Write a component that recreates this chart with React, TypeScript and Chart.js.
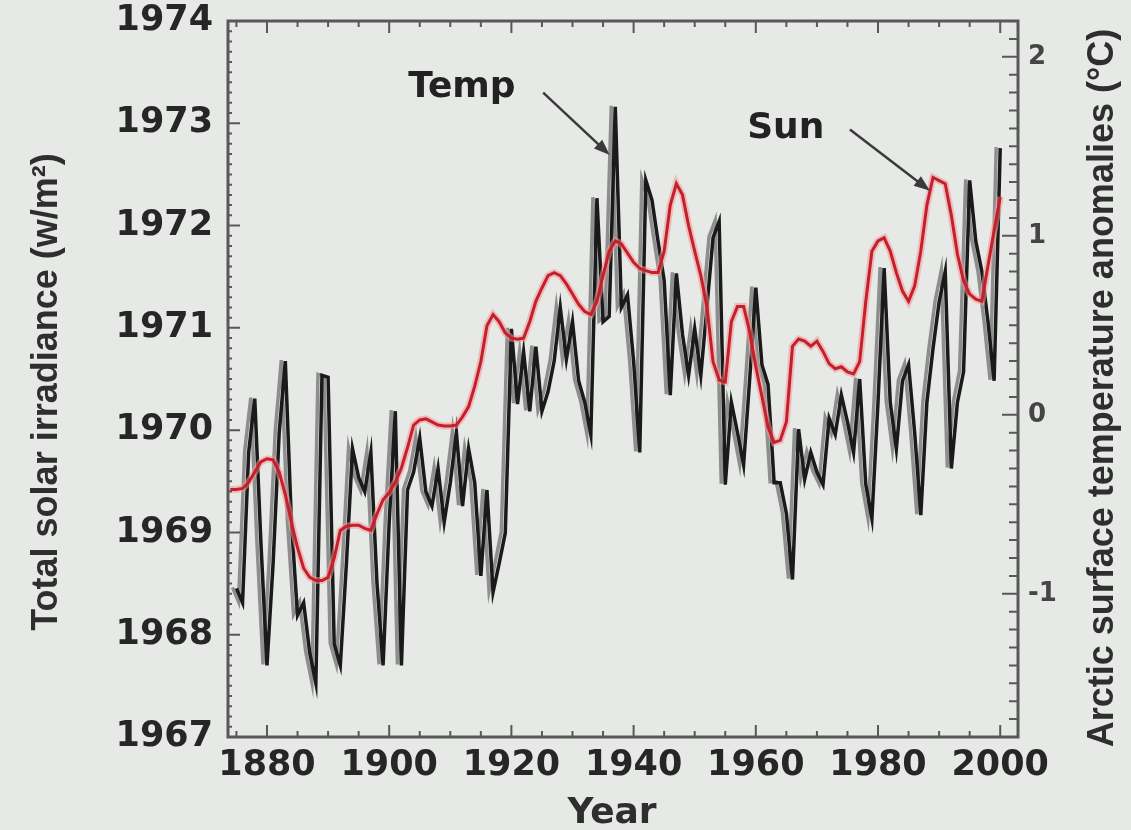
import React, { useEffect, useRef } from 'react';
import { Chart, registerables } from 'chart.js';

Chart.register(...registerables);

// ---- axis ticks ----
const xTickYears = [1880, 1900, 1920, 1940, 1960, 1980, 2000];
const leftTickValues = [1967, 1968, 1969, 1970, 1971, 1972, 1973, 1974];
const rightTickValues = [-1, 0, 1, 2];

// ---- Arctic surface temperature anomalies (°C), annual, from 1875 ----
const tempStartYear = 1875;
const tempAnomaly = [
  -0.97, -1.05, -0.21, 0.09, -0.71, -1.40, -0.83, -0.10, 0.30, -0.60, // 1875-1884
  -1.12, -1.05, -1.33, -1.50, 0.22, 0.21, -1.28, -1.40, -0.83, -0.19, // 1885-1894
  -0.35, -0.43, -0.21, -0.94, -1.40, -0.60, 0.02, -1.40, -0.42, -0.32, // 1895-1904
  -0.13, -0.43, -0.51, -0.30, -0.60, -0.38, -0.10, -0.51, -0.19, -0.38, // 1905-1914
  -0.90, -0.42, -0.99, -0.83, -0.66, 0.48, 0.06, 0.35, 0.02, 0.38, // 1915-1924
  0.02, 0.13, 0.30, 0.60, 0.31, 0.52, 0.19, 0.07, -0.11, 1.21, // 1925-1934
  0.52, 0.55, 1.72, 0.60, 0.67, 0.30, -0.21, 1.31, 1.20, 0.97, // 1935-1944
  0.75, 0.11, 0.79, 0.45, 0.22, 0.48, 0.22, 0.60, 0.99, 1.08, // 1945-1954
  -0.39, 0.07, -0.10, -0.28, 0.20, 0.71, 0.28, 0.17, -0.38, -0.38, // 1955-1964
  -0.55, -0.92, -0.08, -0.36, -0.21, -0.32, -0.39, -0.02, -0.11, 0.11, // 1965-1974
  -0.04, -0.21, 0.20, -0.39, -0.58, 0.07, 0.82, 0.07, -0.19, 0.19, // 1975-1984
  0.28, -0.10, -0.56, 0.07, 0.37, 0.63, 0.80, -0.30, 0.07, 0.24, // 1985-1994
  1.31, 0.97, 0.80, 0.52, 0.19, 1.49, // 1995-2000
];

// ---- Total solar irradiance (W/m2, as labelled), annual, from 1874 ----
const sunStartYear = 1874;
const sunIrradiance = [
  1969.42, 1969.42, 1969.43, 1969.49, 1969.59, 1969.69, 1969.72, 1969.71, 1969.59, 1969.37, // 1874-1883
  1969.10, 1968.85, 1968.65, 1968.56, 1968.53, 1968.53, 1968.56, 1968.75, 1969.02, 1969.06, // 1884-1893
  1969.07, 1969.07, 1969.04, 1969.02, 1969.18, 1969.32, 1969.39, 1969.49, 1969.63, 1969.83, // 1894-1903
  1970.05, 1970.10, 1970.11, 1970.08, 1970.05, 1970.04, 1970.04, 1970.05, 1970.13, 1970.23, // 1904-1913
  1970.43, 1970.67, 1971.02, 1971.13, 1971.06, 1970.95, 1970.90, 1970.89, 1970.90, 1971.06, // 1914-1923
  1971.26, 1971.39, 1971.51, 1971.54, 1971.51, 1971.43, 1971.33, 1971.23, 1971.16, 1971.13, // 1924-1933
  1971.26, 1971.51, 1971.75, 1971.85, 1971.82, 1971.73, 1971.64, 1971.58, 1971.56, 1971.54, // 1934-1943
  1971.54, 1971.75, 1972.20, 1972.41, 1972.30, 1972.00, 1971.75, 1971.51, 1971.21, 1970.67, // 1944-1953
  1970.49, 1970.47, 1971.06, 1971.21, 1971.21, 1970.96, 1970.62, 1970.33, 1970.03, 1969.88, // 1954-1963
  1969.90, 1970.08, 1970.82, 1970.89, 1970.87, 1970.82, 1970.87, 1970.77, 1970.65, 1970.60, // 1964-1973
  1970.62, 1970.57, 1970.55, 1970.67, 1971.26, 1971.75, 1971.85, 1971.88, 1971.75, 1971.54, // 1974-1983
  1971.36, 1971.26, 1971.41, 1971.75, 1972.20, 1972.47, 1972.44, 1972.41, 1972.10, 1971.72, // 1984-1993
  1971.46, 1971.33, 1971.28, 1971.26, 1971.61, 1971.95, 1972.28, // 1994-2000
];

const tempYears = tempAnomaly.map((_, i) => tempStartYear + i);
const sunYears = sunIrradiance.map((_, i) => sunStartYear + i);

// ---- annotations (in data units: year, left-axis value) ----
const annotationLabels = ['Temp', 'Sun'];
const annotationTextAt = [[1911.9, 1973.35], [1964.9, 1972.95]];
const annotationArrowFrom = [[1925.2, 1973.30], [1975.4, 1972.94]];
const annotationArrowTo = [[1936.1, 1972.69], [1988.5, 1972.34]];

const leftTitle = 'Total solar irradiance (w/m\u00B2)';
const rightTitle = 'Arctic surface temperature anomalies (\u00B0C)';
const xTitle = 'Year';

const BG = '#e6e9e6';
const FRAME = '#585858';
const TICK_FONT = '"DejaVu Sans", sans-serif';
const TITLE_FONT = '"Liberation Sans", Arial, sans-serif';

const decorPlugin = {
  id: 'decor',
  beforeDraw(chart: any) {
    const { ctx, width, height } = chart;
    ctx.save();
    ctx.fillStyle = BG;
    ctx.fillRect(0, 0, width, height);
    ctx.restore();
  },
  beforeDatasetDraw(chart: any, args: any) {
    const ds = chart.data.datasets[args.index];
    if (ds.greyShadow) {
      const ctx = chart.ctx;
      ctx.save();
      ctx.shadowColor = '#8e8e8e';
      ctx.shadowOffsetX = -4;
      ctx.shadowOffsetY = -1;
      ctx.shadowBlur = 0;
    }
  },
  afterDatasetDraw(chart: any, args: any) {
    const ds = chart.data.datasets[args.index];
    if (ds.greyShadow) chart.ctx.restore();
  },
  afterDraw(chart: any) {
    const { ctx, chartArea: a, scales } = chart;
    const sx = scales.x;
    const yl = scales.y;
    const yr = scales.y1;
    ctx.save();

    // tick marks (inside)
    ctx.strokeStyle = FRAME;
    ctx.lineWidth = 2;
    ctx.beginPath();
    for (let v = 1875; v <= 2000; v += 5) {
      const px = sx.getPixelForValue(v);
      const len = v % 20 === 0 ? 12 : 6;
      ctx.moveTo(px, a.bottom);
      ctx.lineTo(px, a.bottom - len);
      ctx.moveTo(px, a.top);
      ctx.lineTo(px, a.top + len);
    }
    for (let i = 0; i <= 70; i++) {
      const py = yl.getPixelForValue(1967 + i / 10);
      const len = i % 10 === 0 ? 12 : 4;
      ctx.moveTo(a.left, py);
      ctx.lineTo(a.left + len, py);
    }
    for (let i = -18; i <= 22; i++) {
      const py = yr.getPixelForValue(i / 10);
      const len = i % 10 === 0 ? 16 : 9;
      ctx.moveTo(a.right, py);
      ctx.lineTo(a.right - len, py);
    }
    ctx.stroke();

    // frame
    ctx.lineWidth = 3;
    ctx.strokeRect(a.left, a.top, a.right - a.left, a.bottom - a.top);

    // annotations
    ctx.font = `bold 36px ${TICK_FONT}`;
    ctx.fillStyle = '#222';
    ctx.textAlign = 'center';
    ctx.textBaseline = 'middle';
    annotationLabels.forEach((label, i) => {
      const tx = sx.getPixelForValue(annotationTextAt[i][0]);
      const ty = yl.getPixelForValue(annotationTextAt[i][1]);
      ctx.fillText(label, tx, ty);
      const x0 = sx.getPixelForValue(annotationArrowFrom[i][0]);
      const y0 = yl.getPixelForValue(annotationArrowFrom[i][1]);
      const x1 = sx.getPixelForValue(annotationArrowTo[i][0]);
      const y1 = yl.getPixelForValue(annotationArrowTo[i][1]);
      const ang = Math.atan2(y1 - y0, x1 - x0);
      ctx.strokeStyle = '#3a3a3a';
      ctx.lineWidth = 2.5;
      ctx.beginPath();
      ctx.moveTo(x0, y0);
      ctx.lineTo(x1 - Math.cos(ang) * 10, y1 - Math.sin(ang) * 10);
      ctx.stroke();
      ctx.fillStyle = '#3a3a3a';
      ctx.beginPath();
      ctx.moveTo(x1, y1);
      ctx.lineTo(x1 - Math.cos(ang) * 16 + Math.sin(ang) * 6, y1 - Math.sin(ang) * 16 - Math.cos(ang) * 6);
      ctx.lineTo(x1 - Math.cos(ang) * 16 - Math.sin(ang) * 6, y1 - Math.sin(ang) * 16 + Math.cos(ang) * 6);
      ctx.closePath();
      ctx.fill();
      ctx.fillStyle = '#222';
    });

    // axis titles
    ctx.fillStyle = '#2e2e2e';
    ctx.font = `bold 36px ${TITLE_FONT}`;
    ctx.save();
    ctx.translate(47, 392);
    ctx.rotate(-Math.PI / 2);
    ctx.fillText(leftTitle, 0, 0);
    ctx.restore();

    ctx.save();
    ctx.translate(1103, 388);
    ctx.rotate(-Math.PI / 2);
    ctx.fillText(rightTitle, 0, 0);
    ctx.restore();

    ctx.font = `bold 36px ${TICK_FONT}`;
    ctx.fillText(xTitle, 612, 814);

    ctx.restore();
  },
};

export default function App() {
  const canvasRef = useRef<HTMLCanvasElement | null>(null);

  useEffect(() => {
    const canvas = canvasRef.current;
    if (!canvas) return;
    const chart = new Chart(canvas, {
      type: 'line',
      data: {
        datasets: [
          {
            label: 'Sun',
            data: sunYears.map((yr, i) => ({ x: yr, y: sunIrradiance[i] })),
            yAxisID: 'y',
            borderColor: '#c51f2b',
            borderWidth: 3,
            pointRadius: 0,
            tension: 0,
            order: 0,
          },
          {
            label: 'Sun halo',
            data: sunYears.map((yr, i) => ({ x: yr, y: sunIrradiance[i] })),
            yAxisID: 'y',
            borderColor: 'rgba(240,150,150,0.55)',
            borderWidth: 7,
            pointRadius: 0,
            tension: 0,
            order: 1,
          },
          {
            label: 'Temp',
            data: tempYears.map((yr, i) => ({ x: yr, y: tempAnomaly[i] })),
            yAxisID: 'y1',
            borderColor: '#1a1a1a',
            borderWidth: 3.5,
            pointRadius: 0,
            tension: 0,
            order: 2,
            greyShadow: true,
          } as any,
        ],
      },
      options: {
        responsive: false,
        animation: false,
        events: [],
        layout: { padding: { top: 21, left: 0, right: 0, bottom: 0 } },
        plugins: {
          legend: { display: false },
          tooltip: { enabled: false },
          title: { display: false },
        },
        scales: {
          x: {
            type: 'linear',
            min: 1873.62,
            max: 2002.91,
            afterBuildTicks: (s: any) => {
              s.ticks = xTickYears.map((v) => ({ value: v }));
            },
            afterFit: (s: any) => {
              s.height = 93;
              s.paddingLeft = 0;
              s.paddingRight = 0;
            },
            grid: { display: false, drawTicks: false },
            border: { display: false },
            ticks: {
              autoSkip: false,
              maxRotation: 0,
              minRotation: 0,
              padding: 8,
              color: '#262626',
              font: { family: TICK_FONT, size: 35, weight: 'bold' },
              callback: (v: any) => String(v),
            },
          },
          y: {
            type: 'linear',
            position: 'left',
            min: 1967,
            max: 1974,
            afterBuildTicks: (s: any) => {
              s.ticks = leftTickValues.map((v) => ({ value: v }));
            },
            afterFit: (s: any) => {
              s.width = 228;
              s.paddingTop = 0;
              s.paddingBottom = 0;
            },
            grid: { display: false, drawTicks: false },
            border: { display: false },
            ticks: {
              padding: 15,
              color: '#262626',
              font: { family: TICK_FONT, size: 35, weight: 'bold' },
              callback: (v: any) => String(v),
            },
          },
          y1: {
            type: 'linear',
            position: 'right',
            min: -1.8,
            max: 2.2,
            afterBuildTicks: (s: any) => {
              s.ticks = rightTickValues.map((v) => ({ value: v }));
            },
            afterFit: (s: any) => {
              s.width = 113;
              s.paddingTop = 0;
              s.paddingBottom = 0;
            },
            grid: { display: false, drawTicks: false },
            border: { display: false },
            ticks: {
              padding: 10,
              color: '#454545',
              font: { family: TICK_FONT, size: 26, weight: 'bold' },
              callback: (v: any) => String(v),
            },
          },
        },
      },
      plugins: [decorPlugin],
    } as any);
    return () => chart.destroy();
  }, []);

  return (
    <div style={{ position: 'fixed', left: 0, top: 0, width: 1131, height: 830, background: BG }}>
      <canvas ref={canvasRef} width={1131} height={830} style={{ display: 'block' }} />
    </div>
  );
}
